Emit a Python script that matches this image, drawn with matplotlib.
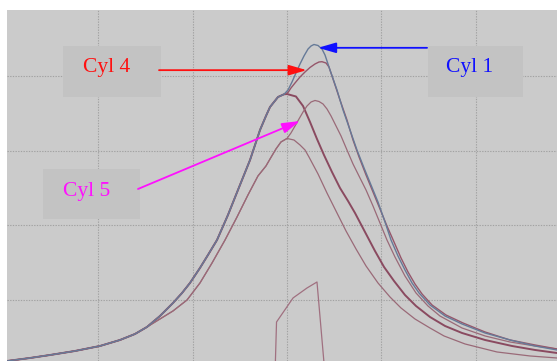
import numpy as np
import matplotlib
matplotlib.use("Agg")
import matplotlib.pyplot as plt
from matplotlib.patches import Rectangle

# ─── Data (crank angle deg, pressure bar) ─────────────────────────────────────

# compression flank shared by the high traces (motored, Cyl 1, Cyl 4)
m_left_deg = [-29.69, -27.25, -25.13, -22.48, -19.83, -17.71, -16.12, -14.85, -13.47, -12.09,
              -11.13, -10.29, -9.23, -8.38, -7.42, -6.26, -5.20, -3.92, -2.86, -2.23, -1.80,
              -0.95, -0.32]
m_left_bar = [3.62, 4.43, 5.23, 6.31, 7.65, 9.26, 10.87, 12.75, 15.70, 19.19,
              21.88, 24.56, 28.59, 32.08, 36.11, 42.82, 49.53, 57.58, 65.64, 69.40, 71.81,
              74.50, 75.22]

# motored trace, expansion side
m_right_deg = [0.0, 0.95, 1.70, 2.44, 3.18, 3.92, 4.77, 5.62, 6.47, 7.21, 8.27, 9.33, 10.29,
               11.35, 12.51, 13.68, 15.16, 16.76, 18.56, 21.00, 23.86, 26.30, 28.63]
m_right_bar = [75.30, 74.63, 72.08, 67.79, 63.22, 58.93, 54.36, 50.07, 46.58, 43.36, 38.26,
               33.15, 28.86, 25.10, 21.34, 18.39, 15.44, 13.02, 11.14, 9.26, 7.65, 6.58, 5.77]

# low motored trace
l_left_deg = [-29.69, -27.25, -25.13, -22.48, -19.83, -17.71, -16.12, -14.85, -13.47, -12.09,
              -10.60, -9.23, -7.95, -6.57, -5.30, -4.14, -3.08, -2.23, -1.80, -1.17, -0.64, 0.0]
l_left_bar = [3.62, 4.43, 5.23, 6.31, 7.65, 9.26, 10.87, 12.75, 14.90, 17.05,
              20.00, 24.56, 29.93, 36.11, 42.28, 48.19, 53.29, 55.97, 57.85, 60.54, 62.42, 63.36]
l_right_deg = [0.74, 1.38, 1.91, 2.33, 3.29, 4.24, 5.30, 6.26, 7.32, 8.38, 9.65, 10.92, 12.09,
               13.57, 15.16, 16.65, 18.88, 22.27, 25.77, 28.63]
l_right_bar = [62.95, 61.61, 60.27, 58.39, 53.83, 48.72, 43.36, 38.52, 33.69, 29.13, 24.56,
               20.81, 17.85, 14.90, 12.48, 10.34, 8.19, 6.04, 4.97, 4.43]

# Cyl 5 (leaves the low trace at TDC)
c5_deg = [0.42, 0.85, 1.27, 1.70, 2.12, 2.55, 2.97, 3.39, 3.82, 4.24, 4.67, 5.20, 5.73, 6.36,
          7.00, 7.74, 8.38, 9.12, 9.86, 10.60, 11.45, 12.51, 13.68, 14.95, 16.22, 18.56, 21.00,
          23.65, 26.30, 28.63]
c5_bar = [64.83, 66.71, 68.59, 70.47, 72.08, 73.15, 73.56, 73.29, 72.62, 71.28, 69.40, 66.71,
          64.03, 60.27, 56.51, 52.75, 49.53, 45.23, 40.67, 36.11, 31.54, 26.44, 21.88, 18.39,
          15.70, 12.48, 10.34, 8.72, 7.65, 6.85]

# Cyl 1
c1_deg = [0.11, 0.53, 0.95, 1.38, 1.80, 2.23, 2.55, 2.86, 3.29, 3.71, 4.03, 4.56, 5.30, 5.94,
          6.68, 7.42, 8.17, 8.91, 9.65, 10.39, 11.03, 11.77, 12.51, 13.26, 14.00, 15.16, 16.76,
          18.56, 21.00, 23.65, 26.30, 28.63]
c1_bar = [76.38, 78.52, 80.94, 83.36, 85.50, 87.38, 88.19, 88.59, 88.32, 87.38, 85.77, 81.74,
          76.38, 71.01, 65.64, 60.27, 55.44, 50.87, 46.31, 40.94, 36.11, 31.81, 28.05, 24.56,
          21.88, 18.66, 15.70, 13.56, 11.14, 9.26, 7.65, 6.58]

# Cyl 4
c4_deg = [0.11, 0.42, 0.85, 1.38, 1.91, 2.44, 2.97, 3.39, 3.71, 4.14, 4.45, 4.88, 5.62, 6.36,
          7.00, 7.64, 8.38, 9.12, 9.86, 10.60, 11.35, 12.09, 12.83, 13.57, 14.32, 15.38, 16.86,
          18.66, 21.00, 23.65, 26.30, 28.63]
c4_bar = [75.70, 76.91, 78.26, 79.87, 81.21, 82.42, 83.36, 83.89, 83.97, 83.62, 82.55, 79.33,
          73.69, 68.32, 62.95, 58.39, 53.56, 48.99, 44.43, 39.87, 35.57, 31.28, 27.52, 24.30,
          21.61, 18.66, 15.97, 13.83, 11.41, 9.26, 7.92, 6.85]

# injection signal at the bottom
inj_deg = [-1.27, -1.11, 0.64, 2.12, 3.18, 4.03]
inj_bar = [0.0, 14.09, 20.54, 23.22, 24.83, 0.0]

grid_x = [-20, -10, 0, 10, 20]
grid_y = [20, 40, 60, 80]

labels = ["Cyl 4", "Cyl 1", "Cyl 5"]
label_xy = [(-19.1, 82.3), (19.4, 82.3), (-21.2, 49.1)]
label_colors = ["#ff1010", "#1010ff", "#ff10ff"]
boxes = [(-23.75, 74.5, 10.4, 13.7), (14.95, 74.5, 10.1, 13.7), (-25.9, 41.7, 10.3, 13.5)]
arrow_from = [(-13.57, 81.7), (14.85, 87.7), (-15.8, 49.8)]
arrow_to = [(2.09, 81.7), (3.29, 87.7), (1.38, 68.05)]

# ─── Plot ─────────────────────────────────────────────────────────────────────

fig = plt.figure(figsize=(5.57, 3.61), dpi=100)
fig.patch.set_facecolor("white")
ax = fig.add_axes([7 / 557, 0, 550 / 557, 351 / 361])
ax.set_facecolor("#cbcbcb")
ax.set_xlim(-29.69, 28.63)
ax.set_ylim(3.62, 97.85)
for s in ax.spines.values():
    s.set_visible(False)
ax.set_xticks([]); ax.set_yticks([])

for gx in grid_x:
    ax.axvline(gx, color="#a2a2a2", lw=0.8, ls=(0, (1.2, 1.2)), zorder=1)
for gy in grid_y:
    ax.axhline(gy, color="#a2a2a2", lw=0.8, ls=(0, (1.2, 1.2)), zorder=1)

for (bx, by, bw, bh) in boxes:
    ax.add_patch(Rectangle((bx, by), bw, bh, color="#c3c3c3", lw=0, zorder=2))

ax.plot(m_left_deg + m_right_deg, m_left_bar + m_right_bar, color="#8a4a60", lw=1.4, zorder=3)
ax.plot(l_left_deg + l_right_deg, l_left_bar + l_right_bar, color="#9a6a78", lw=0.9, zorder=3)
ax.plot(l_left_deg + c5_deg, l_left_bar + c5_bar, color="#9a6a78", lw=0.9, zorder=3)
ax.plot(m_left_deg + c4_deg, m_left_bar + c4_bar, color="#96566a", lw=1.0, zorder=3)
ax.plot(m_left_deg + c1_deg, m_left_bar + c1_bar, color="#667a98", lw=1.0, zorder=3)
ax.plot(inj_deg, inj_bar, color="#a07080", lw=0.9, zorder=3)

for txt, (tx, ty), col in zip(labels, label_xy, label_colors):
    ax.text(tx, ty, txt, color=col, fontsize=15.5, family="Liberation Serif",
            ha="center", va="center", zorder=5)

for (x0, y0), (x1, y1), col in zip(arrow_from, arrow_to, label_colors):
    ax.annotate("", xy=(x1, y1), xytext=(x0, y0), zorder=5,
                arrowprops=dict(arrowstyle="-|>,head_length=0.9,head_width=0.26",
                                mutation_scale=12, color=col, lw=1.3,
                                shrinkA=0, shrinkB=0))

plt.savefig("out.png", dpi=100)
plt.close()
